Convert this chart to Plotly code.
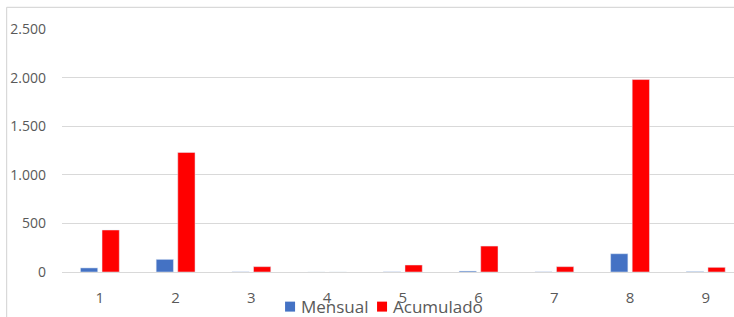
import plotly.graph_objects as go

categories = [1, 2, 3, 4, 5, 6, 7, 8, 9]
mensual = [42, 130, 2, 0, 2, 10, 2, 188, 5]
acumulado = [432, 1230, 55, 0, 72, 267, 55, 1980, 48]
y_ticks = [0, 500, 1000, 1500, 2000, 2500]
series_names = ["Mensual", "Acumulado"]
series_colors = ["#4472C4", "#FF0000"]

fig = go.Figure()
fig.add_trace(go.Bar(x=categories, y=mensual, name=series_names[0], marker_color=series_colors[0]))
fig.add_trace(go.Bar(x=categories, y=acumulado, name=series_names[1], marker_color=series_colors[1]))

W, H = 734, 317
cat_w = 75.75
plot_left, plot_top, plot_bottom = 61.9, 28.7, 272.3
L, T, R = plot_left, plot_top, 0
B = H - plot_bottom
pw, ph = W - L - R, H - T - B

def px_x(x):
    return (x - L) / pw

def px_y(y):
    return (T + ph - y) / ph

fig.update_layout(
    width=W, height=H,
    margin=dict(l=L, r=R, t=T, b=B, pad=0),
    paper_bgcolor="white", plot_bgcolor="white",
    barmode="group", bargap=0.43, bargroupgap=0.2,
    separators=",.",
    font=dict(family="Open Sans", color="#595959"),
    showlegend=False,
    xaxis=dict(range=[0.5, 0.5 + pw / cat_w], tickmode="array", tickvals=categories,
               showgrid=False, zeroline=False, showline=False, ticks="",
               tickfont=dict(size=15, color="#595959"), ticklabelstandoff=15,
               automargin=False),
    yaxis=dict(range=[0, 2500], tickvals=y_ticks, tickformat=",d",
               showgrid=True, gridcolor="#D9D9D9", gridwidth=1.3,
               zeroline=True, zerolinecolor="#D9D9D9", zerolinewidth=1.3,
               showline=False, ticks="", tickfont=dict(size=14, color="#595959"),
               ticklabelstandoff=15, automargin=False),
)

# chart-area border (left and top edges visible)
fig.add_shape(type="line", xref="paper", yref="paper",
              x0=px_x(6.5), x1=px_x(6.5), y0=-0.5, y1=px_y(7),
              line=dict(color="#D9D9D9", width=1.2), layer="below")
fig.add_shape(type="line", xref="paper", yref="paper",
              x0=px_x(6.5), x1=1.2, y0=px_y(7), y1=px_y(7),
              line=dict(color="#D9D9D9", width=1.2), layer="below")

# legend (drawn manually to match the compact spacing)
legend_items = [(285, 299), (377, 391)]
for (sq_x, tx_x), name, color in zip(legend_items, series_names, series_colors):
    fig.add_shape(type="rect", xref="paper", yref="paper",
                  x0=px_x(sq_x), x1=px_x(sq_x + 10), y0=px_y(312), y1=px_y(302),
                  line=dict(width=0), fillcolor=color)
    fig.add_annotation(xref="paper", yref="paper", x=px_x(tx_x), y=px_y(306.5),
                       xanchor="left", yanchor="middle", showarrow=False,
                       text=name, font=dict(size=17, color="#595959", family="Open Sans"))

fig.write_html("out.html",
               config={"displayModeBar": False},
               post_script="document.body.style.margin='0';document.body.style.overflow='hidden';")
